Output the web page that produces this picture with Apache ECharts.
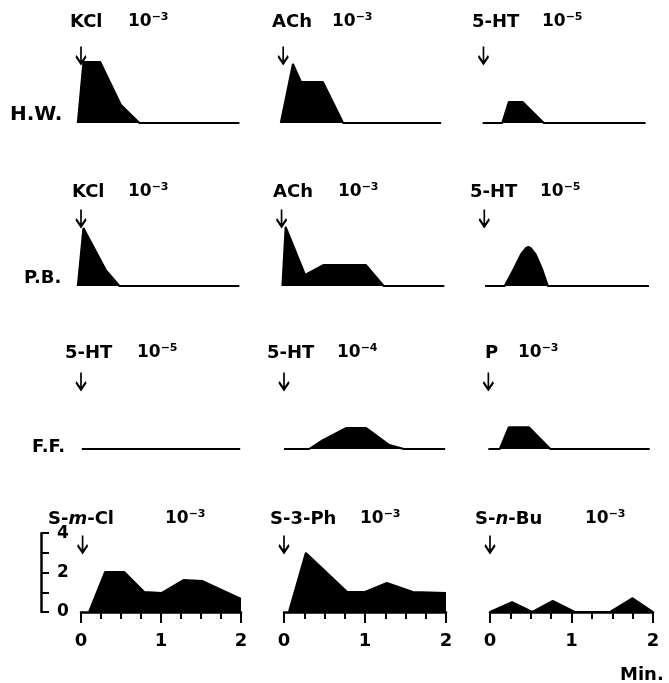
<!DOCTYPE html>
<html>
<head>
<meta charset="utf-8">
<script src="https://cdn.jsdelivr.net/npm/echarts@6/dist/echarts.min.js"></script>
<style>
  body { margin: 0; background: #fff; }
  #chart { width: 669px; height: 683px; }
</style>
</head>
<body>
<div id="chart"></div>
<script>
// time (min) / response pairs
const hwKCl = [[-0.04, 0], [-0.02, 0], [0.03, 3.1], [0.24, 3.1], [0.5, 0.91], [0.73, 0], [1.98, 0]];
const hwACh = [[-0.04, 0], [0.11, 3.0], [0.21, 2.08], [0.48, 2.08], [0.73, 0], [1.94, 0]];
const hw5HT = [[-0.09, 0], [0.15, 0], [0.23, 1.07], [0.40, 1.07], [0.66, 0], [1.91, 0]];
const pbKCl = [[-0.04, 0], [-0.02, 0], [0.03, 2.94], [0.31, 0.81], [0.48, 0], [1.98, 0]];
const pbACh = [[-0.02, 0], [0.02, 3.0], [0.26, 0.56], [0.49, 1.07], [1.01, 1.07], [1.23, 0], [1.98, 0]];
const pb5HT = [[-0.06, 0], [0.18, 0], [0.29, 0.85], [0.38, 1.6], [0.44, 1.92], [0.47, 1.98], [0.50, 1.92], [0.56, 1.6], [0.64, 0.85], [0.71, 0], [1.95, 0]];
const ff5HT5 = [[0.01, 0], [1.99, 0]];
const ff5HT4 = [[0, 0], [0.31, 0], [0.48, 0.45], [0.77, 1.07], [1.01, 1.07], [1.30, 0.2], [1.48, 0], [1.99, 0]];
const ffP = [[-0.02, 0], [0.12, 0], [0.23, 1.1], [0.48, 1.1], [0.74, 0], [1.96, 0]];
const smCl = [[0.1, 0], [0.3, 2.03], [0.54, 2.03], [0.79, 1.02], [1.01, 0.97], [1.28, 1.62], [1.52, 1.57], [2.0, 0.66]];
const s3Ph = [[0.06, 0], [0.27, 3.0], [0.78, 1.02], [1.0, 1.02], [1.27, 1.47], [1.59, 1.02], [2.0, 0.97]];
const snBu = [[0, 0], [0.27, 0.5], [0.52, 0], [0.77, 0.56], [1.04, 0], [1.47, 0], [1.75, 0.7], [2.0, 0]];

const rowNames = ['H.W.', 'P.B.', 'F.F.'];
const drugs = [
    ['KCl', 'ACh', '5-HT'],
    ['KCl', 'ACh', '5-HT'],
    ['5-HT', '5-HT', 'P'],
    ['S-{i|m}-Cl', 'S-3-Ph', 'S-{i|n}-Bu']
];
const exps = [
    ['−3', '−3', '−5'],
    ['−3', '−3', '−5'],
    ['−5', '−4', '−3'],
    ['−3', '−3', '−3']
];
const traces = [
    [hwKCl, hwACh, hw5HT],
    [pbKCl, pbACh, pb5HT],
    [ff5HT5, ff5HT4, ffP],
    [smCl, s3Ph, snBu]
];
const xTickLabels = ['0', '1', '2'];
const yTickLabels = ['0', '2', '4'];

// layout
const FONT = 'DejaVu Sans';
const colLeft = [81, 284, 490];
const pxPerMin = [80, 81, 81.5];
const rowBase = [123, 286, 449, 612];
const unitPx = 19.7;
const nameX = [[70, 272, 472], [72, 273, 470], [65, 267, 485], [48, 270, 475]];
const expX = [[128, 332, 542], [128, 338, 540], [137, 337, 518], [165, 360, 585]];
const labelY = [22, 192, 353, 519];
const rowNameX = [10, 24, 32];
const rowNameY = [115, 278, 447];
const rowNameSize = [20, 18, 18];
const arrowT = [[0, -0.01, -0.08], [0, -0.03, -0.07], [0, 0, -0.02], [0.02, 0, 0]];
const ARROW_Y = 3.45;
const Y_AXIS_X = 41;

const grids = [], xAxes = [], yAxes = [], series = [], titles = [];
const rich = {
    b: { fontFamily: FONT, fontWeight: 'bold', fontSize: 17, lineHeight: 20 },
    s: { fontFamily: FONT, fontWeight: 'bold', fontSize: 11, lineHeight: 11, verticalAlign: 'top' },
    i: { fontFamily: FONT, fontWeight: 'bold', fontStyle: 'italic', fontSize: 18, lineHeight: 20 }
};
const black = { color: '#000', width: 2 };

for (let r = 0; r < 4; r++) {
    for (let c = 0; c < 3; c++) {
        const idx = grids.length;
        const last = r === 3;
        const xmin = last ? 0 : -0.1;
        grids.push({
            left: colLeft[c] + xmin * pxPerMin[c],
            width: (2 - xmin) * pxPerMin[c],
            top: rowBase[r] - 4 * unitPx,
            height: 4 * unitPx
        });
        xAxes.push({
            gridIndex: idx, type: 'value', min: xmin, max: 2, interval: 1,
            show: last,
            axisLine: { lineStyle: { color: '#000', width: 2.5 } },
            axisTick: { length: 11, lineStyle: black },
            minorTick: { show: true, splitNumber: 4, length: 7, lineStyle: black },
            splitLine: { show: false },
            axisLabel: {
                margin: 20, color: '#000', fontFamily: FONT, fontWeight: 'bold', fontSize: 18,
                formatter: v => xTickLabels[Math.round(v)]
            }
        });
        yAxes.push({ gridIndex: idx, type: 'value', min: 0, max: 4, show: false });
        series.push({
            type: 'line', xAxisIndex: idx, yAxisIndex: idx,
            data: traces[r][c], symbol: 'none', silent: true,
            lineStyle: black,
            areaStyle: { color: '#000', opacity: 1 },
            markPoint: {
                symbol: 'path://M5 0 L5 16 M0 9 L5 16 L10 9',
                symbolSize: [10, 17],
                itemStyle: { color: 'rgba(0,0,0,0)', borderColor: '#000', borderWidth: 2.2 },
                label: { show: false },
                data: [{ coord: [arrowT[r][c], ARROW_Y] }]
            }
        });
        titles.push({
            text: drugs[r][c], left: nameX[r][c], top: labelY[r] - 10, padding: 0,
            textStyle: { fontFamily: FONT, fontWeight: 'bold', fontSize: 18, lineHeight: 20, color: '#000', rich: rich }
        });
        titles.push({
            text: '{b|10}{s|' + exps[r][c] + '}', left: expX[r][c], top: labelY[r] - 10, padding: 0,
            textStyle: { color: '#000', rich: rich }
        });
    }
}

// response scale, drawn detached to the left of the bottom-left trace
const yIdx = grids.length;
grids.push({ left: Y_AXIS_X, width: colLeft[0] - Y_AXIS_X, top: rowBase[3] - 4 * unitPx, height: 4 * unitPx });
xAxes.push({ gridIndex: yIdx, type: 'value', min: 0, max: 1, show: false });
yAxes.push({
    gridIndex: yIdx, type: 'value', min: 0, max: 4, interval: 1, position: 'left',
    axisLine: { show: true, lineStyle: { color: '#000', width: 2.5 } },
    axisTick: { show: true, inside: true, length: 8, lineStyle: black },
    splitLine: { show: false },
    axisLabel: {
        inside: true, margin: 16, color: '#000', fontFamily: FONT, fontWeight: 'bold', fontSize: 17,
        formatter: v => (v % 2 === 0 ? yTickLabels[v / 2] : '')
    }
});

rowNames.forEach((n, i) => {
    titles.push({
        text: n, left: rowNameX[i], top: rowNameY[i] - 11, padding: 0,
        textStyle: { fontFamily: FONT, fontWeight: 'bold', fontSize: rowNameSize[i], lineHeight: 22, color: '#000' }
    });
});
titles.push({
    text: 'Min.', left: 620, top: 665, padding: 0,
    textStyle: { fontFamily: FONT, fontWeight: 'bold', fontSize: 18, lineHeight: 20, color: '#000' }
});

const chart = echarts.init(document.getElementById('chart'), null, { renderer: 'canvas' });
chart.setOption({
    animation: false,
    backgroundColor: '#fff',
    title: titles,
    grid: grids,
    xAxis: xAxes,
    yAxis: yAxes,
    series: series
});
</script>
</body>
</html>
